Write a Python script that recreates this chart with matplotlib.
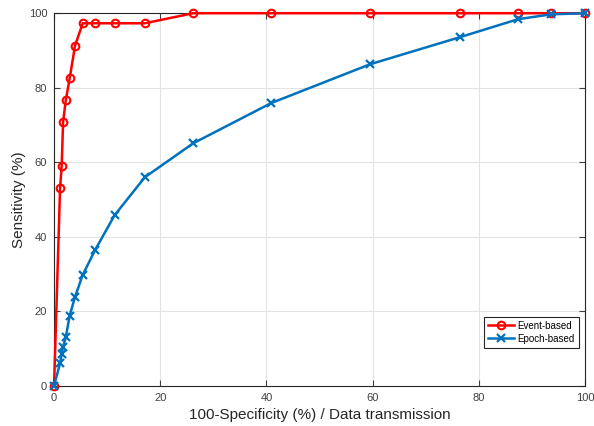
import matplotlib.pyplot as plt
import numpy as np

# 数据
transmission = [0, 1.13, 1.44, 1.7, 2.2, 2.95, 3.95, 5.4, 7.7, 11.4, 17.1, 26.2,
                40.9, 59.5, 76.5, 87.4, 93.6, 100]
sens_event = [0, 53.0, 59.1, 70.8, 76.6, 82.6, 91.3, 97.3, 97.3, 97.3, 97.3, 100,
              100, 100, 100, 100, 100, 100]
sens_epoch = [0, 6.1, 8.6, 10.5, 13.0, 18.9, 23.9, 29.8, 36.4, 45.8, 56.0, 65.1,
              75.9, 86.3, 93.6, 98.4, 99.7, 100]

plt.rcParams['font.family'] = ['Liberation Sans', 'DejaVu Sans']

fig = plt.figure(figsize=(5.94, 4.26), dpi=100)
ax = fig.add_axes([0.091, 0.094, 0.894, 0.875])

ax.plot(transmission, sens_event, '-o', color='#FF0000', linewidth=1.8,
        markersize=5.5, markerfacecolor='none', markeredgewidth=1.5,
        label='Event-based', clip_on=False, zorder=3)
ax.plot(transmission, sens_epoch, '-x', color='#0072BD', linewidth=1.8,
        markersize=5.5, markeredgewidth=1.6, label='Epoch-based',
        clip_on=False, zorder=4)

ax.set_xlim(0, 100)
ax.set_ylim(0, 100)
ax.set_xticks(np.arange(0, 101, 20))
ax.set_yticks(np.arange(0, 101, 20))
ax.grid(True, color='#e3e3e3', linewidth=0.8)
ax.set_axisbelow(True)
ax.tick_params(direction='in', length=4, labelsize=8, colors='#404040',
               top=True, right=True, pad=5)
for s in ax.spines.values():
    s.set_color('#262626')
    s.set_linewidth(0.8)

ax.set_xlabel('100-Specificity (%) / Data transmission', fontsize=11, color='#262626')
ax.set_ylabel('Sensitivity (%)', fontsize=11, color='#262626', labelpad=2)

leg = ax.legend(loc='lower right', bbox_to_anchor=(0.997, 0.09), fontsize=7,
                fancybox=False, framealpha=1, edgecolor='#262626',
                handlelength=2.6, borderpad=0.4, labelspacing=0.3, handletextpad=0.4)
leg.get_frame().set_linewidth(0.8)

fig.savefig('out.png', dpi=100)
